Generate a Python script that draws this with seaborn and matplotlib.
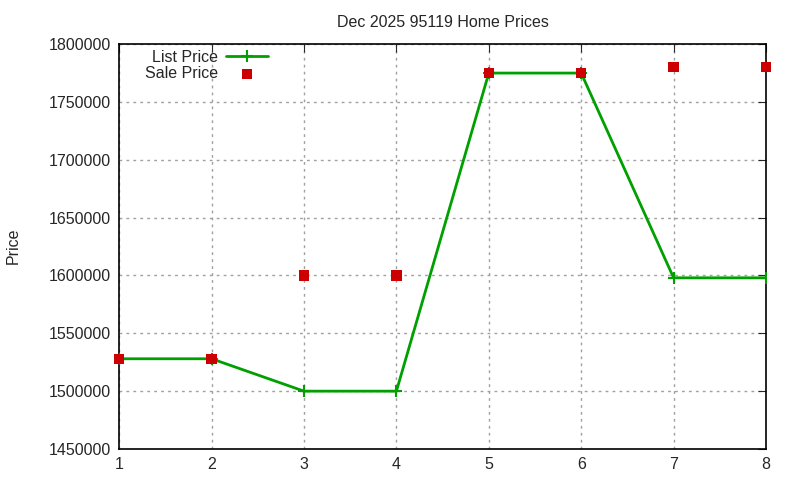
import pandas as pd
import numpy as np
import matplotlib.pyplot as plt
import matplotlib.ticker as mticker
import seaborn as sns

sns.set_style("white")
plt.rcParams["font.family"] = ["Liberation Sans", "DejaVu Sans"]

homes = [1, 2, 3, 4, 5, 6, 7, 8]
list_price = [1528000, 1528000, 1500000, 1500000, 1775000, 1775000, 1598000, 1598000]
sale_price = [1528000, 1528000, 1600000, 1600000, 1775000, 1775000, 1780000, 1780000]
yticks = [1450000, 1500000, 1550000, 1600000, 1650000, 1700000, 1750000, 1800000]

df = pd.DataFrame({"home": homes, "list": list_price, "sale": sale_price})

fig, ax = plt.subplots(figsize=(8, 4.8), dpi=100)
fig.subplots_adjust(left=0.149, right=0.9575, top=0.908, bottom=0.0646)

green = "#00a000"
sns.lineplot(data=df, x="home", y="list", ax=ax, color=green, linewidth=2,
             marker="+", markersize=9, markeredgewidth=1.5, markeredgecolor=green,
             label="List Price", zorder=3)
sns.scatterplot(data=df, x="home", y="sale", ax=ax, color="#cc0000", marker="s",
                s=55, edgecolor="none", label="Sale Price", zorder=4, clip_on=False)

ax.set_xlim(1, 8)
ax.set_ylim(1450000, 1800000)
ax.set_xticks(homes)
ax.set_yticks(yticks)
ax.yaxis.set_major_formatter(mticker.FormatStrFormatter("%d"))
ax.tick_params(direction="in", top=True, right=True, length=6, labelsize=11.5, pad=6)
ax.grid(True, linestyle=(0, (2, 3)), color="#a0a0a0", linewidth=1)
for s in ax.spines.values():
    s.set_linewidth(1.2)
    s.set_color("black")

ax.set_xlabel("")
ax.set_ylabel("")
fig.text(0.016, 0.487, "Price", rotation=90, fontsize=11.5, ha="center", va="center")
ax.set_title("Dec 2025 95119 Home Prices", fontsize=11.5, pad=12)

leg = ax.legend(loc="upper left", markerfirst=False, frameon=False, fontsize=11.5,
                handlelength=2.6, handletextpad=0.5, borderaxespad=0.2,
                labelspacing=0.1, bbox_to_anchor=(0.025, 1.01))

plt.savefig("out.png", dpi=100)
